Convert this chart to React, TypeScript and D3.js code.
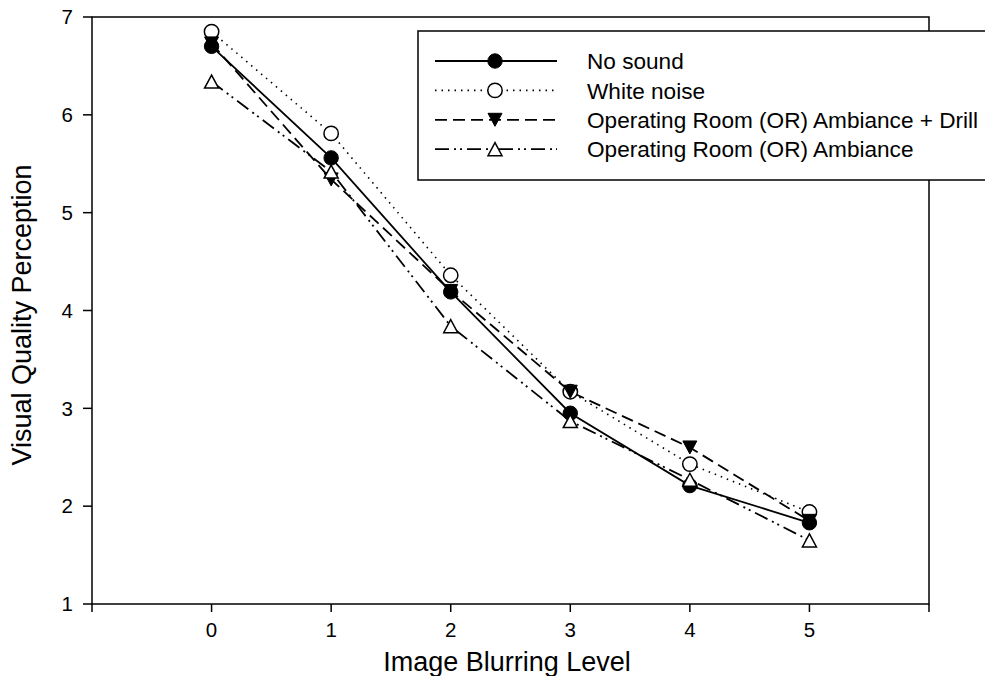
import React from "react";
import * as d3 from "d3";

const levels = [0, 1, 2, 3, 4, 5];
const seriesNames = [
  "No sound",
  "White noise",
  "Operating Room (OR) Ambiance + Drill",
  "Operating Room (OR) Ambiance",
];
const noSound = [6.7, 5.56, 4.19, 2.95, 2.21, 1.83];
const whiteNoise = [6.85, 5.81, 4.36, 3.17, 2.43, 1.94];
const orDrill = [6.73, 5.34, 4.2, 3.17, 2.6, 1.85];
const orAmbiance = [6.34, 5.42, 3.84, 2.87, 2.27, 1.65];
const yTicks = [1, 2, 3, 4, 5, 6, 7];
const xTicks = [-1, 0, 1, 2, 3, 4, 5, 6];
const xTickLabels = ["", "0", "1", "2", "3", "4", "5", ""];

type Marker = "filledCircle" | "openCircle" | "downTri" | "upTri";
interface S { name: string; values: number[]; dash: string; marker: Marker }

const series: S[] = [
  { name: seriesNames[0], values: noSound, dash: "", marker: "filledCircle" },
  { name: seriesNames[1], values: whiteNoise, dash: "1.5,5", marker: "openCircle" },
  { name: seriesNames[2], values: orDrill, dash: "12,6", marker: "downTri" },
  { name: seriesNames[3], values: orAmbiance, dash: "14,5,2,4,2,5", marker: "upTri" },
];
// drawing order observed in the reference
const drawOrder = [1, 0, 2, 3];

const W = 985, H = 676;
const x = d3.scaleLinear().domain([-1, 6]).range([92, 929]);
const y = d3.scaleLinear().domain([1, 7]).range([604, 17]);
const font = "'Liberation Sans', Arial, sans-serif";

function MarkerShape({ type, cx, cy }: { type: Marker; cx: number; cy: number }) {
  const r = 7.2;
  if (type === "filledCircle") return <circle cx={cx} cy={cy} r={r} fill="#000" stroke="#000" strokeWidth={1} />;
  if (type === "openCircle") return <circle cx={cx} cy={cy} r={r} fill="#fff" stroke="#000" strokeWidth={1.5} />;
  const hw = 7, hh = 6.5;
  if (type === "downTri")
    return <path d={`M${cx - hw},${cy - hh}L${cx + hw},${cy - hh}L${cx},${cy + hh}Z`} fill="#000" stroke="#000" strokeWidth={1} />;
  return <path d={`M${cx - hw},${cy + hh}L${cx + hw},${cy + hh}L${cx},${cy - hh}Z`} fill="#fff" stroke="#000" strokeWidth={1.5} />;
}

export default function App() {
  const line = d3.line<number>().x((_, i) => x(levels[i])).y((d) => y(d));
  const legX = 418, legY = 31, legW = 575, legH = 149;
  const rowY = (i: number) => 61 + i * 29.4;
  return (
    <svg width={W} height={H} style={{ position: "absolute", left: 0, top: 0, background: "#fff" }}>
      <rect x={0} y={0} width={W} height={H} fill="#fff" />
      {/* frame */}
      <rect x={x(-1)} y={y(7)} width={x(6) - x(-1)} height={y(1) - y(7)} fill="none" stroke="#000" strokeWidth={1.5} />
      {/* y ticks */}
      {yTicks.map((t) => (
        <g key={"y" + t}>
          <line x1={x(-1) - 9} x2={x(-1)} y1={y(t)} y2={y(t)} stroke="#000" strokeWidth={1.5} />
          <text x={73} y={y(t)} dy="0.35em" textAnchor="end" fontFamily={font} fontSize={20.5}>{t}</text>
        </g>
      ))}
      {/* x ticks */}
      {xTicks.map((t, i) => (
        <g key={"x" + t}>
          <line x1={x(t)} x2={x(t)} y1={y(1)} y2={y(1) + 8} stroke="#000" strokeWidth={1.5} />
          <text x={x(t)} y={637} textAnchor="middle" fontFamily={font} fontSize={20.5}>{xTickLabels[i]}</text>
        </g>
      ))}
      <text x={507} y={671} textAnchor="middle" fontFamily={font} fontSize={27}>Image Blurring Level</text>
      <text transform={`translate(31,315) rotate(-90)`} textAnchor="middle" fontFamily={font} fontSize={27}>Visual Quality Perception</text>
      {/* lines */}
      {drawOrder.map((k) => (
        <path key={"l" + k} d={line(series[k].values) || ""} fill="none" stroke="#000"
          strokeWidth={series[k].marker === "openCircle" ? 1.6 : 1.8} strokeDasharray={series[k].dash} />
      ))}
      {drawOrder.map((k) => (
        <g key={"m" + k}>
          {series[k].values.map((v, i) => (
            <MarkerShape key={i} type={series[k].marker} cx={x(levels[i])} cy={y(v)} />
          ))}
        </g>
      ))}
      {/* legend */}
      <rect x={legX} y={legY} width={legW} height={legH} fill="#fff" stroke="#000" strokeWidth={1.5} />
      {series.map((s, i) => (
        <g key={"lg" + i}>
          <line x1={435} x2={557} y1={rowY(i)} y2={rowY(i)} stroke="#000"
            strokeWidth={s.marker === "openCircle" ? 1.6 : 1.8} strokeDasharray={s.dash} />
          <MarkerShape type={s.marker} cx={495} cy={rowY(i)} />
          <text x={587} y={rowY(i)} dy="0.36em" fontFamily={font} fontSize={22.6}>{s.name}</text>
        </g>
      ))}
    </svg>
  );
}
